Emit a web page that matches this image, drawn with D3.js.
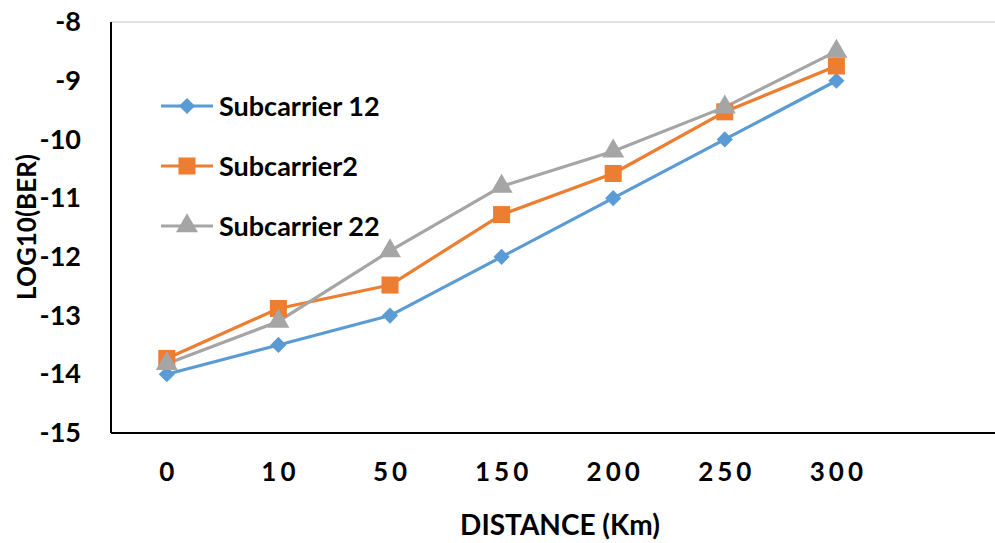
<!DOCTYPE html>
<html><head><meta charset="utf-8">
<script src="https://cdn.jsdelivr.net/npm/d3@7"></script>
<style>html,body{margin:0;padding:0;background:#fff;}</style>
</head><body>
<svg id="c" width="995" height="543"></svg>
<script>
const categories = ["0","10","50","150","200","250","300"];
const sub12 = [-14, -13.5, -13, -12, -11, -10, -9];
const sub2  = [-13.73, -12.88, -12.48, -11.28, -10.58, -9.53, -8.75];
const sub22 = [-13.82, -13.1, -11.9, -10.8, -10.2, -9.45, -8.5];
const seriesNames = ["Subcarrier 12", "Subcarrier2", "Subcarrier 22"];
const yTicks = [-8, -9, -10, -11, -12, -13, -14, -15];

const colors = ["#5B9BD5", "#ED7D31", "#A5A5A5"];
const symbols = [d3.symbolSquare, d3.symbolSquare, d3.symbolTriangle];
const symSizes = [130, 290, 210];
const symRot = [45, 0, 0];
const font = "Lato, 'Open Sans', sans-serif";

const svg = d3.select("#c");
const L = 111, T = 22, B = 433, R = 995;
const band = 111.6;
const x = d3.scaleBand().domain(categories.concat(["_"])).range([L, L + band*8]).padding(0);
const cx = d => x(d) + x.bandwidth()/2;
const y = d3.scaleLinear().domain([-15, -8]).range([B, T]);

// top border line
svg.append("line").attr("x1", L).attr("x2", R).attr("y1", T).attr("y2", T)
  .attr("stroke", "#d9d9d9").attr("stroke-width", 1.5);

// y axis
const yAxis = svg.append("g").attr("transform", `translate(${L},0)`)
  .call(d3.axisLeft(y).tickValues(yTicks).tickSize(0).tickPadding(30).tickFormat(d => String(d)));
yAxis.select(".domain").remove();
yAxis.selectAll("text").attr("font-family", font).attr("font-weight", "bold")
  .attr("font-size", 27).attr("fill", "#000");
svg.append("line").attr("x1", L).attr("x2", L).attr("y1", T).attr("y2", B)
  .attr("stroke", "#000").attr("stroke-width", 2);

// x axis
const xAxis = svg.append("g").attr("transform", `translate(0,${B})`)
  .call(d3.axisBottom(x).tickValues(categories).tickSize(0).tickPadding(30));
xAxis.select(".domain").remove();
xAxis.selectAll("text").attr("font-family", font).attr("font-weight", "bold")
  .attr("font-size", 26).attr("fill", "#000").attr("letter-spacing", "4px")
  .attr("dx", "2px");
svg.append("line").attr("x1", L).attr("x2", R).attr("y1", B).attr("y2", B)
  .attr("stroke", "#000").attr("stroke-width", 2);

// titles
svg.append("text").attr("x", 560).attr("y", 535).attr("text-anchor", "middle")
  .attr("font-family", font).attr("font-weight", "bold").attr("font-size", 28)
  .text("DISTANCE (Km)");
svg.append("text").attr("transform", "translate(36,227) rotate(-90)").attr("text-anchor", "middle")
  .attr("font-family", font).attr("font-weight", "bold").attr("font-size", 26)
  .text("LOG10(BER)");

// series
const allSeries = [sub12, sub2, sub22];
const line = d3.line().x((d,i) => cx(categories[i])).y(d => y(d));
allSeries.forEach((vals, si) => {
  svg.append("path").datum(vals).attr("d", line).attr("fill", "none")
    .attr("stroke", colors[si]).attr("stroke-width", 3.2).attr("stroke-linejoin", "round");
});
allSeries.forEach((vals, si) => {
  svg.append("g").selectAll("path").data(vals).join("path")
    .attr("transform", (d,i) => `translate(${cx(categories[i])},${y(d)}) rotate(${symRot[si]})`)
    .attr("d", d3.symbol().type(symbols[si]).size(symSizes[si]))
    .attr("fill", colors[si]);
});

// legend
const legY = [106, 166, 226];
seriesNames.forEach((name, si) => {
  const g = svg.append("g").attr("transform", `translate(161,${legY[si]})`);
  g.append("line").attr("x1", 0).attr("x2", 52).attr("stroke", colors[si]).attr("stroke-width", 3.2);
  g.append("path").attr("transform", `translate(26,0) rotate(${symRot[si]})`)
    .attr("d", d3.symbol().type(symbols[si]).size(symSizes[si])).attr("fill", colors[si]);
  g.append("text").attr("x", 58).attr("y", 0).attr("dy", "0.36em")
    .attr("font-family", font).attr("font-weight", "bold").attr("font-size", 27)
    .text(name);
});
</script>
</body></html>
